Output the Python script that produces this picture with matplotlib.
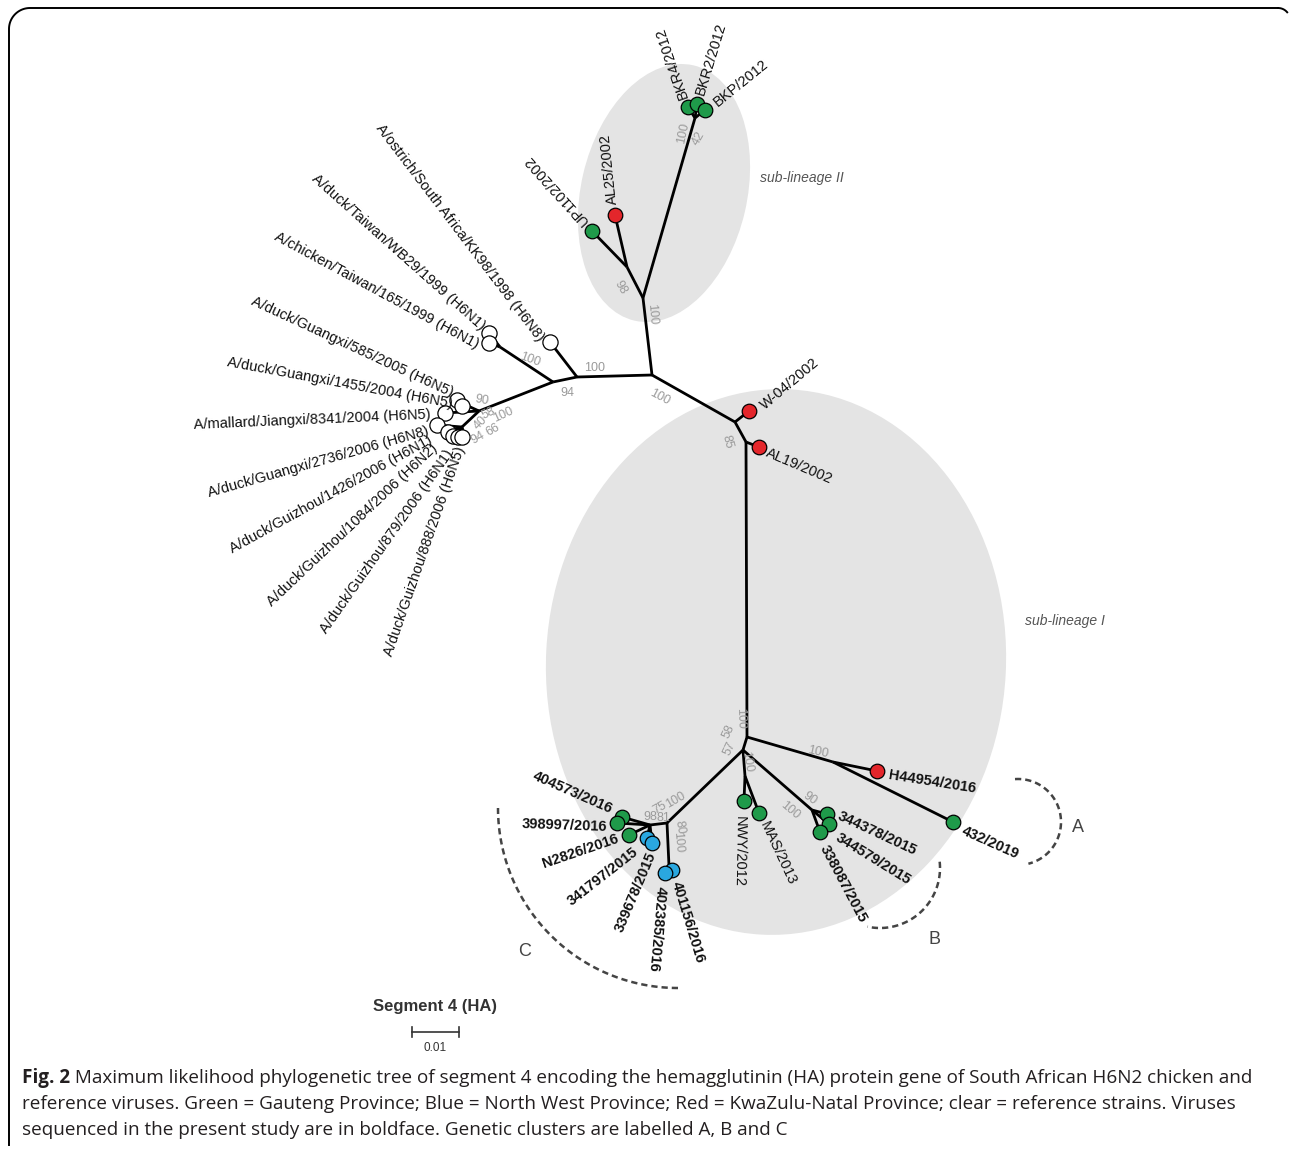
import numpy as np
import matplotlib
matplotlib.use("Agg")
import matplotlib.pyplot as plt
from matplotlib.patches import Ellipse

plt.rcParams['font.family'] = ['Liberation Sans', 'DejaVu Sans']

# ---- tree data -------------------------------------------------------------
# internal nodes (page layout of the unrooted tree, pixels)
node_names = ['root', 'II', 'BK', 'UA', 'A1', 'B1', 'TW', 'GX', 'GXa', 'GXb',
              'I1', 'I2', 'I3', 'Acl', 'I4', 'NM', 'Bcl', 'Ccl', 'Cl', 'Cv']
node_x = [652, 643, 695, 627, 577, 553, 500, 479, 468, 462,
          735, 746, 747, 833, 743, 745, 812, 667, 650, 669]
node_y = [375, 298, 118, 267, 377, 382, 347, 411, 406, 427,
          422, 442, 737, 762, 750, 776, 810, 823, 825, 866]

# tips
tip_names = ['BKR4', 'BKR2', 'BKP', 'AL25', 'UP1102',
             'KK98', 'WB29', 'TW165', 'GX585', 'GX1455', 'JX8341', 'GX2736',
             'GZ1426', 'GZ1084', 'GZ879', 'GZ888',
             'W04', 'AL19', 'H44954', '432', 'NWY', 'MAS',
             '344378', '344579', '338087',
             '404573', '398997', 'N2826', '341797', '339678', '401156', '402385']
tip_labels = ['BKR4/2012', 'BKR2/2012', 'BKP/2012', 'AL25/2002', 'UP1102/2002',
              'A/ostrich/South Africa/KK98/1998 (H6N8)',
              'A/duck/Taiwan/WB29/1999 (H6N1)',
              'A/chicken/Taiwan/165/1999 (H6N1)',
              'A/duck/Guangxi/585/2005 (H6N5)',
              'A/duck/Guangxi/1455/2004 (H6N5)',
              'A/mallard/Jiangxi/8341/2004 (H6N5)',
              'A/duck/Guangxi/2736/2006 (H6N8)',
              'A/duck/Guizhou/1426/2006 (H6N1)',
              'A/duck/Guizhou/1084/2006 (H6N2)',
              'A/duck/Guizhou/879/2006 (H6N1)',
              'A/duck/Guizhou/888/2006 (H6N5)',
              'W-04/2002', 'AL19/2002', 'H44954/2016', '432/2019',
              'NWY/2012', 'MAS/2013',
              '344378/2015', '344579/2015', '338087/2015',
              '404573/2016', '398997/2016', 'N2826/2016', '341797/2015',
              '339678/2015', '401156/2016', '402385/2016']
tip_province = ['GP', 'GP', 'GP', 'KZN', 'GP',
                'ref', 'ref', 'ref', 'ref', 'ref', 'ref', 'ref',
                'ref', 'ref', 'ref', 'ref',
                'KZN', 'KZN', 'KZN', 'GP', 'GP', 'GP',
                'GP', 'GP', 'GP',
                'GP', 'GP', 'GP', 'NW', 'NW', 'NW', 'NW']
tip_study = [False] * 18 + [True, True, False, False] + [True] * 10

edge_parent = ['root', 'II', 'BK', 'BK', 'BK', 'II', 'UA', 'UA',
               'root', 'A1', 'A1', 'B1', 'TW', 'TW', 'B1', 'GX', 'GXa', 'GXa',
               'GX', 'GX', 'GXb', 'GXb', 'GXb', 'GXb', 'GXb',
               'root', 'I1', 'I1', 'I2', 'I2', 'I3', 'Acl', 'Acl', 'I3',
               'I4', 'NM', 'NM', 'I4', 'Bcl', 'Bcl', 'Bcl',
               'I4', 'Ccl', 'Cl', 'Cl', 'Cl', 'Cl', 'Cl', 'Ccl', 'Cv', 'Cv']
edge_child = ['II', 'BK', 'BKR4', 'BKR2', 'BKP', 'UA', 'AL25', 'UP1102',
              'A1', 'KK98', 'B1', 'TW', 'WB29', 'TW165', 'GX', 'GXa', 'GX585', 'GX1455',
              'JX8341', 'GXb', 'GX2736', 'GZ1426', 'GZ1084', 'GZ879', 'GZ888',
              'I1', 'W04', 'I2', 'AL19', 'I3', 'Acl', 'H44954', '432', 'I4',
              'NM', 'NWY', 'MAS', 'Bcl', '344378', '344579', '338087',
              'Ccl', 'Cl', '404573', '398997', 'N2826', '341797', '339678',
              'Cv', '401156', '402385']

# bootstrap support values
bs_text = ['100', '98', '100', '42', '100', '94', '100', '90', '58', '100', '40',
           '66', '94', '100', '85', '100', '58', '57', '100', '100', '90', '100',
           '75', '100', '98', '81', '80', '100']

# ---- layout ---------------------------------------------------------------
tip_x = [688, 697, 705, 615, 592,
         550, 489, 489, 457, 462, 445, 437, 448, 453, 458, 462,
         749, 759, 877, 953, 744, 759, 827, 829, 820,
         622, 617, 629, 647, 652, 672, 665]
tip_y = [107, 104, 110, 215, 231,
         342, 333, 343, 400, 406, 413, 425, 432, 436, 437, 437,
         411, 447, 771, 822, 801, 813, 814, 824, 832,
         817, 823, 835, 838, 843, 870, 873]
label_x = [684, 700, 715, 613, 586,
           541, 483, 478, 452, 452, 431, 428, 431, 435, 450, 461,
           762, 767, 889, 962, 740, 763, 838, 837, 823,
           612, 607, 618, 637, 652, 676, 661]
label_y = [98, 95, 104, 204, 223,
           340, 328, 345, 393, 404, 415, 431, 439, 446, 451, 447,
           407, 452, 775, 830, 816, 822, 815, 837, 846,
           810, 827, 838, 850, 853, 882, 886]
label_rot = [109, 73, 39, 96, 132,
             -52.8, -41.7, -28.4, -24.8, -10.5, 2.5, 15.8, 28.9, 43.5, 54.9, 70.8,
             40, -23, -9, -24, -91, -65, -25, -31.6, -62,
             -23.7, -2, 19, 38, 67, -73, -95]
label_ha = ['left'] * 5 + ['right'] * 11 + ['left'] * 9 + ['right'] * 5 + ['left'] * 2

bs_x = [652, 620, 683, 699, 595, 567, 530, 482, 488, 503, 481, 493, 478, 660,
        727, 740, 729, 730, 747, 818, 810, 790, 660, 676, 650, 663, 680, 678]
bs_y = [314, 288, 133, 138, 368, 393, 360, 400, 413, 415, 423, 430, 438, 397,
        442, 718, 732, 748, 762, 752, 799, 810, 808, 800, 817, 818, 827, 842]
bs_rot = [-85, -60, 78, 60, 0, 0, -20, -10, 25, 25, 45, 30, 30, -28,
          -75, -88, 65, 65, -80, -12, -35, -40, 30, 30, 0, 0, -80, -85]

province_colors = {'GP': '#1f9a4a', 'NW': '#2aa7df', 'KZN': '#e3262b', 'ref': 'white'}

pos = {n: (x, y) for n, x, y in zip(node_names, node_x, node_y)}
pos.update({n: (x, y) for n, x, y in zip(tip_names, tip_x, tip_y)})

fig = plt.figure(figsize=(12.92, 11.49), dpi=100)
ax = fig.add_axes([0, 0, 1, 1])
ax.set_xlim(0, 1292)
ax.set_ylim(1149, 0)
ax.axis('off')

# shaded sub-lineages
ax.add_patch(Ellipse((664, 193), 166, 262, angle=13, color='#e4e4e4', lw=0, zorder=0))
ax.add_patch(Ellipse((776, 662), 460, 546, angle=3, color='#e4e4e4', lw=0, zorder=0))
ax.text(802, 178, 'sub-lineage II', style='italic', color='#555555', fontsize=10,
        ha='center', va='center')
ax.text(1065, 621, 'sub-lineage I', style='italic', color='#555555', fontsize=10,
        ha='center', va='center')

# branches
for p, c in zip(edge_parent, edge_child):
    (x0, y0), (x1, y1) = pos[p], pos[c]
    ax.plot([x0, x1], [y0, y1], color='black', lw=2.0, solid_capstyle='butt', zorder=2)

# tips
for i, name in enumerate(tip_names):
    prov = tip_province[i]
    ax.scatter(tip_x[i], tip_y[i], s=110 if prov != 'ref' else 120,
               facecolor=province_colors[prov], edgecolor='black', lw=0.9, zorder=3)
    ax.text(label_x[i], label_y[i], tip_labels[i], rotation=label_rot[i],
            rotation_mode='anchor', ha=label_ha[i], va='center', fontsize=10.5,
            fontweight='bold' if tip_study[i] else 'normal', color='#111111', zorder=4)

for t, x, y, r in zip(bs_text, bs_x, bs_y, bs_rot):
    ax.text(x, y, t, rotation=r, rotation_mode='anchor', ha='center', va='center',
            fontsize=9, color='#9a9a9a', zorder=4)

# genetic cluster brackets
cl_names = ['A', 'B', 'C']
cl_cx = [1018, 880, 678]
cl_cy = [822, 868, 808]
cl_r = [43, 60, 180]
cl_a0 = [-94, -6, 90]
cl_a1 = [76, 102, 180]
cl_lx = [1078, 934, 525]
cl_ly = [828, 940, 952]
for n, cx, cy, r, a0, a1, lx, ly in zip(cl_names, cl_cx, cl_cy, cl_r, cl_a0, cl_a1, cl_lx, cl_ly):
    t = np.radians(np.linspace(a0, a1, 100))
    ax.plot(cx + r * np.cos(t), cy + r * np.sin(t), color='#444444', lw=1.8,
            dashes=(2.5, 1.6), zorder=1)
    ax.text(lx, ly, n, fontsize=13, color='#444444', ha='center', va='center')

# scale bar
ax.text(435, 1007, 'Segment 4 (HA)', fontsize=12, fontweight='bold', color='#333333',
        ha='center', va='center')
ax.plot([412, 459], [1032, 1032], color='#333333', lw=1.2)
ax.plot([412, 412], [1027, 1037], color='#333333', lw=1.2)
ax.plot([459, 459], [1027, 1037], color='#333333', lw=1.2)
ax.text(435, 1048, '0.01', fontsize=8.5, color='#333333', ha='center', va='center')

# frame
t = np.radians(np.linspace(180, 270, 30))
ax.plot(np.r_[9, 9, 30 + 21 * np.cos(t), 1278], np.r_[1145, 29, 29 + 21 * np.sin(t), 8],
        color='black', lw=1.4)
t = np.radians(np.linspace(270, 320, 20))
ax.plot(1278 + 12 * np.cos(t), 20 + 12 * np.sin(t), color='black', lw=1.4)

# caption
cap_font = ['Open Sans', 'DejaVu Sans']
cap_color = '#231f20'
cap_size = 13.6
fig_lbl = ax.text(22, 1078, 'Fig. 2', fontsize=cap_size, fontweight='bold', family=cap_font,
                  color=cap_color, ha='left', va='center')
ax.annotate(' Maximum likelihood phylogenetic tree of segment 4 encoding the hemagglutinin '
            '(HA) protein gene of South African H6N2 chicken and',
            xy=(1, 0.5), xycoords=fig_lbl, ha='left', va='center', fontsize=cap_size,
            family=cap_font, color=cap_color)
ax.text(22, 1104, 'reference viruses. Green = Gauteng Province; Blue = North West Province; '
        'Red = KwaZulu-Natal Province; clear = reference strains. Viruses',
        fontsize=cap_size, family=cap_font, color=cap_color, ha='left', va='center')
ax.text(22, 1130, 'sequenced in the present study are in boldface. Genetic clusters are '
        'labelled A, B and C', fontsize=cap_size, family=cap_font, color=cap_color,
        ha='left', va='center')

fig.savefig('out.png', dpi=100)
